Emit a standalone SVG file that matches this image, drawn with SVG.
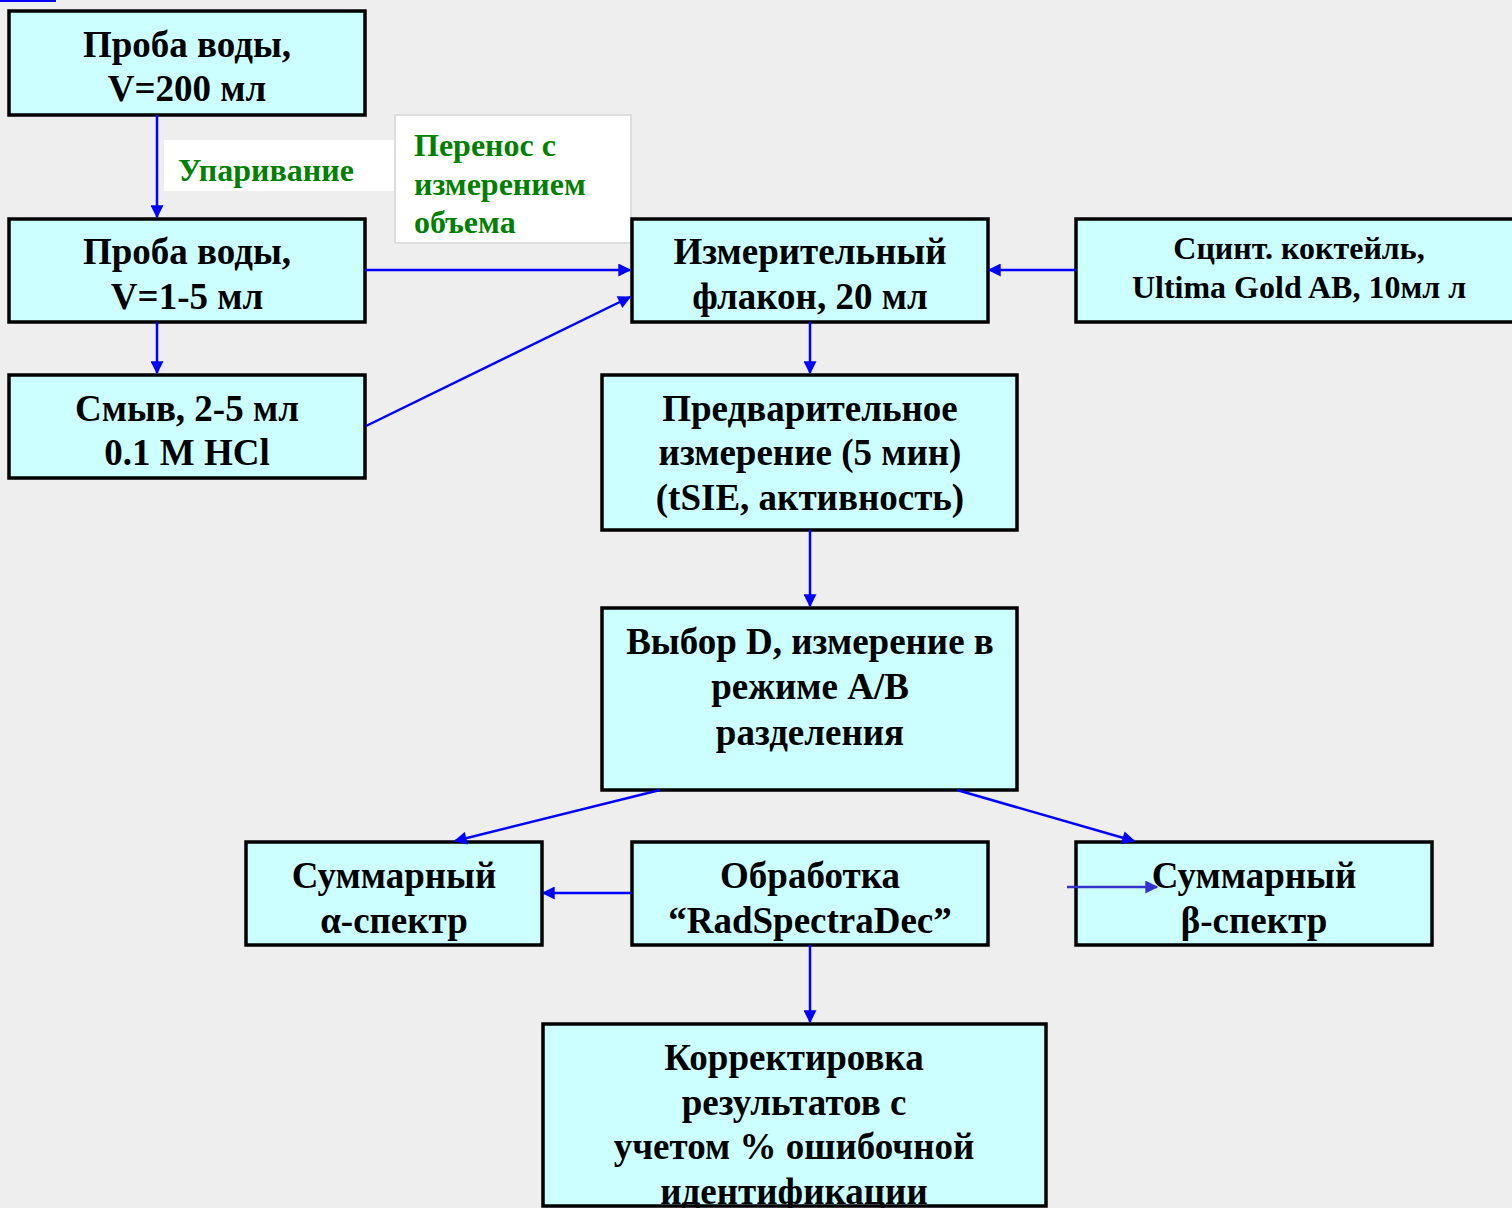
<svg xmlns="http://www.w3.org/2000/svg" width="1512" height="1208" viewBox="0 0 1512 1208">
<defs>
<style>
.box{fill:#ccffff;stroke:#000;stroke-width:3.5}
.t{font-family:"Liberation Serif","Times New Roman",serif;font-weight:bold;font-size:37px;fill:#000;text-anchor:middle}
.ts{font-size:32px}
.g{font-family:"Liberation Serif","Times New Roman",serif;font-weight:bold;font-size:32px;fill:#008000}
.c{stroke:#0000ff;stroke-width:2.5;fill:none;marker-end:url(#ah)}
</style>
<marker id="ah" viewBox="0 0 10 10" refX="9" refY="5" markerWidth="15" markerHeight="13" orient="auto" markerUnits="userSpaceOnUse">
<path d="M0,0 L10,5 L0,10 z" fill="#0000ff"/>
</marker>
<marker id="ah2" viewBox="0 0 10 10" refX="9" refY="5" markerWidth="16" markerHeight="13" orient="auto" markerUnits="userSpaceOnUse">
<path d="M0,0 L10,5 L0,10 z" fill="#3333cc"/>
</marker>
</defs>
<rect x="0" y="0" width="1512" height="1208" fill="#eeeeee"/>
<rect x="0" y="0" width="56" height="2" fill="#0000ff"/>

<g id="label-uparivanie">
<rect x="164" y="140" width="230" height="51" fill="#ffffff"/>
<text class="g" x="178" y="181">Упаривание</text>
</g>
<g id="label-perenos">
<rect x="395" y="115" width="236" height="128" fill="#ffffff" stroke="#dddddd" stroke-width="2"/>
<text class="g" x="414" y="156">Перенос с</text>
<text class="g" x="414" y="195">измерением</text>
<text class="g" x="414" y="233">объема</text>
</g>

<g id="n1"><rect class="box" x="9" y="11" width="356" height="104"/>
<text class="t" x="187" y="57">Проба воды,</text><text class="t" x="187" y="101">V=200 мл</text></g>
<g id="n2"><rect class="box" x="9" y="219" width="356" height="103"/>
<text class="t" x="187" y="264">Проба воды,</text><text class="t" x="187" y="309">V=1-5 мл</text></g>
<g id="n3"><rect class="box" x="9" y="375" width="356" height="103"/>
<text class="t" x="187" y="421">Смыв, 2-5 мл</text><text class="t" x="187" y="465">0.1 M HCl</text></g>
<g id="n4"><rect class="box" x="632" y="219" width="356" height="103"/>
<text class="t" x="810" y="264">Измерительный</text><text class="t" x="810" y="309">флакон, 20 мл</text></g>
<g id="n5"><rect class="box" x="1076" y="219" width="440" height="103"/>
<text class="t ts" x="1299" y="259">Сцинт. коктейль,</text><text class="t ts" x="1299" y="298">Ultima Gold AB, 10мл л</text></g>
<g id="n6"><rect class="box" x="602" y="375" width="415" height="155"/>
<text class="t" x="810" y="421">Предварительное</text><text class="t" x="810" y="465">измерение (5 мин)</text><text class="t" x="810" y="510">(tSIE, активность)</text></g>
<g id="n7"><rect class="box" x="602" y="608" width="415" height="182"/>
<text class="t" x="810" y="654">Выбор D, измерение в</text><text class="t" x="810" y="699">режиме A/B</text><text class="t" x="810" y="745">разделения</text></g>
<g id="n8"><rect class="box" x="246" y="842" width="296" height="103"/>
<text class="t" x="394" y="888">Суммарный</text><text class="t" x="394" y="933">α-спектр</text></g>
<g id="n9"><rect class="box" x="632" y="842" width="356" height="103"/>
<text class="t" x="810" y="888">Обработка</text><text class="t" x="810" y="933">“RadSpectraDec”</text></g>
<g id="n10"><rect class="box" x="1076" y="842" width="356" height="103"/>
<text class="t" x="1254" y="888">Суммарный</text><text class="t" x="1254" y="933">β-спектр</text></g>
<g id="n11"><rect class="box" x="543" y="1024" width="503" height="182"/>
<text class="t" x="794" y="1070">Корректировка</text><text class="t" x="794" y="1115">результатов с</text><text class="t" x="794" y="1159">учетом % ошибочной</text><text class="t" x="794" y="1204">идентификации</text></g>

<g id="connectors">
<line class="c" x1="157" y1="115" x2="157" y2="217"/>
<line class="c" x1="157" y1="322" x2="157" y2="373"/>
<line class="c" x1="365" y1="270" x2="630" y2="270"/>
<line class="c" x1="366" y1="426" x2="630" y2="297"/>
<line class="c" x1="1076" y1="270" x2="989" y2="270"/>
<line class="c" x1="810" y1="322" x2="810" y2="373"/>
<line class="c" x1="810" y1="530" x2="810" y2="606"/>
<line class="c" x1="660" y1="790" x2="455" y2="841"/>
<line class="c" x1="957" y1="790" x2="1134" y2="841"/>
<line class="c" x1="632" y1="893" x2="543" y2="893"/>
<line class="c" x1="810" y1="945" x2="810" y2="1022"/>
<line x1="1067" y1="887" x2="1157" y2="887" stroke="#3333cc" stroke-width="2.5" marker-end="url(#ah2)"/>
</g>
</svg>
